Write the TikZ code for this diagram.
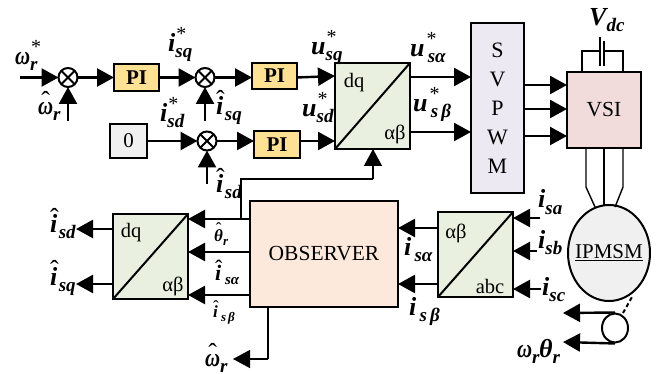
\documentclass[tikz,border=0pt]{standalone}
\usepackage{fontspec}
\setmainfont{Liberation Serif}
\usetikzlibrary{arrows.meta,shapes.geometric}
\newcommand\hh[2]{\ooalign{\hfil\raisebox{#1}{\mdseries\upshape ˆ}\hfil\cr#2\cr}}
\newcommand\om{\scalebox{.8}[1]{ω}}
\newcommand\subsz{19}
\newcommand\subdrop{-6pt}
\newcommand\lb[3]{#1\rlap{\raisebox{\subdrop}{\fontsize{\subsz}{\subsz}\selectfont #2}}\rlap{\kern1pt\raisebox{11pt}{\fontsize{20}{20}\selectfont\mdseries\upshape #3}}}
\definecolor{piyellow}{HTML}{FFE193}
\definecolor{convgreen}{HTML}{E9F0DF}
\definecolor{svpcol}{HTML}{ECE9F3}
\definecolor{vsicol}{HTML}{F2DCDB}
\definecolor{obscol}{HTML}{FCE9DC}
\tikzset{
  box/.style={draw=black,line width=2pt,inner sep=0pt,outer sep=0pt,font=\fontsize{21}{21}\selectfont},
  pibox/.style={box,fill=piyellow,font=\fontsize{21}{21}\selectfont\bfseries},
  conv/.style={box,fill=convgreen},
  sumnode/.style={draw=black,circle,line width=2pt,minimum size=19pt,inner sep=0pt,outer sep=0pt},
  wire/.style={line width=2.4pt,-{Triangle[length=17pt,width=18pt]}},
  thinwire/.style={line width=1.4pt},
  thinarrow/.style={line width=1.4pt,-{Triangle[length=17pt,width=18pt]}},
  lbl/.style={anchor=base west,inner sep=0pt,font=\fontsize{26}{26}\selectfont\bfseries\itshape},
  medlbl/.style={anchor=base west,inner sep=0pt,font=\renewcommand\subsz{15}\renewcommand\subdrop{-4pt}\fontsize{22}{22}\selectfont\bfseries\itshape},
  sml/.style={anchor=base west,inner sep=0pt,font=\renewcommand\subsz{13}\renewcommand\subdrop{-4pt}\fontsize{17}{17}\selectfont\bfseries\itshape},
  captxt/.style={inner sep=0pt,font=\fontsize{20.5}{20.5}\selectfont}
}
\begin{document}
\begin{tikzpicture}[x=1pt,y=-1pt]
\useasboundingbox (0,0) rectangle (656,374);
% blocks
\node[sumnode] (s1) at (68,77.5) {};
\node[sumnode] (s2) at (205,77.5) {};
\node[sumnode] (s3) at (207,141) {};
\foreach \s in {s1,s2,s3} \draw[line width=2pt] (\s.north west) -- (\s.south east) (\s.north east) -- (\s.south west);
\node[pibox,minimum width=45pt,minimum height=27pt] (pi1) at (136.5,77.5) {PI};
\node[pibox,minimum width=45pt,minimum height=26pt] (pi2) at (274.5,76) {PI};
\node[pibox,minimum width=46pt,minimum height=27pt] (pi3) at (277,144.5) {PI};
\node[box,fill=black!6,minimum width=37pt,minimum height=34pt] (zero) at (128.5,141) {0};
\node[conv,minimum width=75pt,minimum height=86pt] (dq1) at (372.5,106) {};
\node[conv,minimum width=75pt,minimum height=85pt] (dq2) at (150.5,256.5) {};
\node[conv,minimum width=75pt,minimum height=85pt] (ab) at (475.5,254.5) {};
\foreach \b in {dq1,dq2,ab} \draw[line width=2pt] (\b.south west) -- (\b.north east);
\node[box,fill=svpcol,minimum width=53pt,minimum height=170pt,align=center,font=\fontsize{22}{29}\selectfont] (svpwm) at (497.5,108) {S\\V\\P\\W\\M};
\node[box,fill=vsicol,minimum width=74pt,minimum height=76pt,font=\fontsize{21.5}{21.5}\selectfont] (vsi) at (604,110) {VSI};
\node[box,fill=obscol,minimum width=148pt,minimum height=106pt,font=\fontsize{21.5}{21.5}\selectfont] (obs) at (324,254) {OBSERVER};
\node[draw=black,line width=2pt,fill=black!6,ellipse,minimum width=82pt,minimum height=96pt,inner sep=0pt,outer sep=0pt] (mot) at (609,253) {};
\node[inner sep=0pt,font=\fontsize{21}{21}\selectfont] (mottxt) at (mot.center) {\underline{IPMSM}};
% free ends
\coordinate (in) at (20,77.5);
\coordinate (fb1) at (68,121);
\coordinate (fb2) at (205,121);
\coordinate (fb3) at (207,184);
\coordinate (dqA) at (410,77);
\coordinate (dqB) at (410,132);
\coordinate (svA) at (471,77);
\coordinate (svB) at (471,132);
% top wires
\draw[wire] (in) -- (s1.west);
\draw[wire] (s1.east) -- (pi1.west);
\draw[wire] (pi1.east) -- (s2.west);
\draw[wire] (s2.east) -- (pi2.west |- s2.east);
\draw[wire] (fb1) -- (s1.south);
\draw[wire] (fb2) -- (s2.south);
\draw[wire] (fb3) -- (s3.south);
\draw[wire] (zero.east) -- (s3.west);
\draw[wire] (s3.east) -- (pi3.west |- s3.east);
\draw[wire] (pi2.east |- s2.east) -- (pi2.east -| dq1.west);
\draw[wire] (pi3.east |- s3.east) -- (pi3.east |- s3.east -| dq1.west);
\draw[wire] (dqA) -- (svA);
\draw[wire] (dqB) -- (svB);
\foreach \y in {85,109,136} \draw[wire] (524,\y) -- (567,\y);
% capacitor
\coordinate (capL) at (582,72);
\coordinate (capR) at (623,72);
\coordinate (capA) at (600,51);
\coordinate (capB) at (604,51);
\draw[thinwire] (capL) |- (capA) (capR) |- (capB);
\draw[thinwire] (600,37) -- (600,66);
\draw[thinwire] (604,41) -- (604,66);
% VSI to motor
\draw[thinwire] (586,148) -- (586,187) -- (595,207);
\draw[thinwire] (604,148) -- (604,205);
\draw[thinwire] (623,148) -- (623,187) -- (615,207);
% lower left
\draw[wire] (113,229) -- (76,229);
\draw[wire] (113,284) -- (76,284);
\foreach \y in {219,252,295} \draw[wire] (250,\y) -- (188,\y);
\draw[wire] (438,228) -- (398,228);
\draw[wire] (438,284) -- (398,284);
\coordinate (sa) at (540,218);
\coordinate (sb) at (537,251);
\coordinate (sc) at (541,289);
\draw[wire] (sa) -- (sa -| ab.east);
\draw[wire] (sb) -- (sb -| ab.east);
\draw[wire] (sc) -- (sc -| ab.east);
% feedback
\coordinate (c1) at (241,219);
\coordinate (c2) at (241,179);
\coordinate (c3) at (373,179);
\draw[thinwire] (c1) -- (c2) -- (c3);
\draw[thinarrow] (c3) -- (c3 |- dq1.south);
\coordinate (o1) at (268,307);
\coordinate (o2) at (268,359);
\coordinate (o3) at (233,359);
\draw[thinwire] (o1) -- (o2);
\draw[thinarrow] (o2) -- (o3);
% pulley
\node[draw=black,line width=2pt,ellipse,minimum width=26pt,minimum height=29pt,inner sep=0pt] (pul) at (615,328) {};
\coordinate (p1) at (563,313);
\coordinate (p2) at (563,342);
\draw[wire] (pul.north) -- (p1);
\draw[wire] (pul.south) -- (p2);
\draw[line width=2pt,dash pattern=on 4pt off 3pt] (623,313) -- (632,297);
% block captions
\node[captxt] (t1) at (354,83) {dq};
\node[captxt] (t2) at (395,134) {αβ};
\node[captxt] (t3) at (131,233) {dq};
\node[captxt] (t4) at (173,286) {αβ};
\node[captxt] (t5) at (456,233) {αβ};
\node[captxt] (t6) at (490,286) {abc};
% V_dc
\node[lbl] (vdc) at (589,26) {\lb{V}{dc}{}};
% labels
\node[lbl] (l1) at (15,65) {\lb{\om}{r}{*}};
\node[lbl] (l2) at (38,115) {\lb{\hh{5pt}{\om}}{r}{}};
\node[lbl] (l3) at (168,52) {\lb{i}{sq}{*}};
\node[lbl] (l4) at (216,115) {\lb{\hh{6pt}{i}}{sq}{}};
\node[lbl] (l5) at (160,122) {\lb{i}{sd}{*}};
\node[lbl] (l6) at (216,193) {\lb{\hh{6pt}{i}}{sd}{}};
\node[lbl] (l7) at (311,55) {\lb{u}{sq}{*}};
\node[lbl] (l8) at (302,117) {\lb{u}{sd}{*}};
\node[lbl] (l9) at (410,57) {\lb{u}{\,sα}{\kern1pt*}};
\node[lbl] (l10) at (413,112) {\lb{u}{\,s\,β}{\kern1pt*}};
\node[lbl] (l11) at (50,233) {\lb{\hh{6pt}{i}}{sd}{}};
\node[lbl] (l12) at (50,285) {\lb{\hh{6pt}{i}}{sq}{}};
\node[sml] (l13) at (214,242) {\lb{\hh{7pt}{θ}}{r}{}};
\node[medlbl] (l14) at (215,280) {\lb{\hh{5pt}{i}}{\,sα}{}};
\node[sml] (l15) at (213,317) {\lb{\hh{5pt}{i}}{\,s\,β}{}};
\node[lbl] (l16) at (205,366) {\lb{\hh{5pt}{\om}}{r}{}};
\node[lbl] (l17) at (404,255) {\lb{i}{\,sα}{}};
\node[lbl] (l18) at (409,315) {\lb{i}{\,s\,β}{}};
\node[lbl] (l19) at (538,208) {\lb{i}{sa}{}};
\node[lbl] (l20) at (538,248) {\lb{i}{sb}{}};
\node[lbl] (l21) at (542,295) {\lb{i}{sc}{}};
\node[lbl] (l22) at (517,357) {\lb{\om}{r}{}\kern7pt\lb{θ}{r}{}};
\end{tikzpicture}
\end{document}
